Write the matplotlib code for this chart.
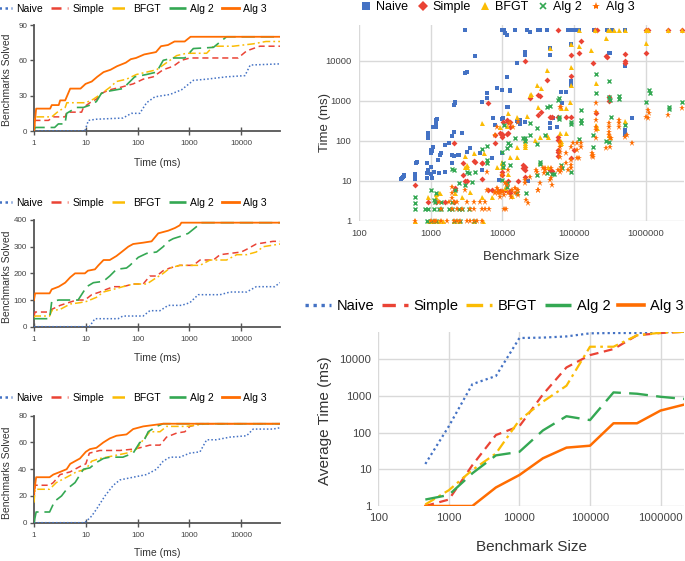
import matplotlib
matplotlib.use('Agg')
import matplotlib.pyplot as plt
from matplotlib.lines import Line2D
from matplotlib.ticker import FixedLocator, NullLocator, FixedFormatter

plt.rcParams['font.family'] = ['Liberation Sans', 'DejaVu Sans']

# ---------------- data ----------------
series_names = ['Naive', 'Simple', 'BFGT', 'Alg 2', 'Alg 3']

# Panel 1 (cactus): time (ms) vs benchmarks solved
p1_naive_t = [1, 9.6, 11.2, 16, 52, 76, 110, 149, 215, 420, 705, 1190, 2150, 5200, 11800, 14900, 56000]
p1_naive_n = [0, 0, 9, 10, 11, 15, 15, 24, 29, 31, 35, 43, 44, 46, 47, 56, 57]
p1_simple_t = [1, 1.05, 1.9, 2.4, 4, 4.3, 8.3, 9, 12, 16, 20, 29, 46, 82, 128, 200, 310, 490, 700, 1020, 8700, 12700, 22800, 56000]
p1_simple_n = [0, 9, 9, 12, 12, 16, 16, 20, 24, 27, 32, 35, 37, 40, 44, 46, 52, 55, 60, 62, 62, 68, 72, 72]
p1_bfgt_t = [1, 1.05, 2.2, 3, 4, 4.3, 10, 14, 19, 29, 39, 61, 95, 149, 232, 362, 565, 880, 2150, 2900, 7000, 17000, 30000, 56000]
p1_bfgt_n = [0, 12, 12, 17, 20, 24, 24, 27, 31, 37, 42, 44, 48, 50, 52, 58, 64, 66, 66, 72, 72, 74, 76, 76]
p1_alg2_t = [1, 1.05, 2.5, 2.95, 3.96, 4.27, 6.65, 9, 12, 16, 20, 29, 52, 88, 149, 232, 312, 485, 815, 1190, 2900, 5200, 56000]
p1_alg2_n = [0, 3, 3, 6, 6, 15, 20, 20, 22, 25, 32, 34, 36, 46, 48, 50, 60, 62, 62, 70, 71, 80, 80]
p1_alg3_t = [1, 1.1, 2.05, 2.2, 3, 3.2, 4, 5, 7.9, 9.9, 13, 16.6, 22, 30, 40, 59, 74, 93, 134, 226, 283, 385, 515, 810, 1050, 56000]
p1_alg3_n = [0, 19, 19, 22, 22, 26, 26, 36, 36, 40, 42, 46, 50, 52, 55, 58, 61, 62, 65, 67, 72, 73, 76, 76, 80, 80]

# Panel 2
p2_naive_t = [1, 11.7, 15, 42, 52, 128, 172, 270, 390, 705, 1020, 1480, 3900, 6100, 12700, 19500, 44000, 56000]
p2_naive_n = [0, 0, 30, 30, 40, 40, 60, 60, 80, 80, 90, 120, 120, 130, 130, 150, 150, 165]
p2_simple_t = [1, 1.05, 2.0, 2.2, 3.2, 4.6, 6.65, 9.6, 13, 18.7, 25, 34, 52, 82, 128, 172, 232, 312, 420, 650, 1190, 1600, 2900, 3900, 10000, 12700, 19500, 41000, 56000]
p2_simple_n = [40, 55, 55, 65, 80, 90, 100, 100, 120, 130, 140, 150, 150, 160, 160, 190, 190, 210, 220, 230, 230, 250, 250, 270, 280, 290, 310, 320, 320]
p2_bfgt_t = [1, 1.05, 2.0, 2.2, 3.2, 5, 7.7, 10.4, 16, 21.8, 34, 52, 82, 150, 215, 312, 420, 650, 1600, 2500, 5200, 8200, 12700, 19500, 26700, 56000]
p2_bfgt_n = [35, 40, 40, 60, 65, 85, 90, 95, 110, 130, 140, 150, 160, 160, 180, 200, 220, 230, 230, 250, 250, 270, 270, 280, 300, 310]
p2_alg2_t = [1, 2.0, 2.2, 3, 7.1, 10.4, 14, 21.8, 29, 39, 61, 71, 103, 150, 232, 312, 390, 485, 705, 950, 1370, 1700, 56000]
p2_alg2_n = [30, 30, 95, 100, 100, 150, 165, 170, 190, 215, 220, 230, 260, 275, 280, 300, 320, 330, 340, 350, 375, 390, 390]
p2_alg3_t = [1, 1.05, 2.0, 2.2, 3, 4, 5, 6.2, 9.6, 11, 15, 17.5, 22, 29, 39, 49, 66, 82, 128, 186, 250, 390, 525, 650, 700, 56000]
p2_alg3_n = [100, 125, 125, 140, 150, 165, 185, 200, 200, 210, 215, 230, 250, 250, 265, 280, 300, 310, 315, 320, 350, 360, 370, 380, 390, 390]

# Panel 3
p3_naive_t = [1, 9.6, 13, 16, 23.4, 34, 45.6, 82, 149, 232, 312, 420, 650, 1020, 1600, 2150, 3300, 6100, 12700, 17000, 41000, 56000]
p3_naive_n = [0, 0, 5, 10, 20, 28, 32, 34, 36, 40, 46, 49, 49, 52, 53, 62, 62, 64, 65, 70, 70, 71]
p3_simple_t = [1, 1.05, 2.0, 2.36, 3.2, 5, 7.7, 10, 11.7, 18.7, 45.6, 82, 110, 172, 270, 362, 565, 815, 1020, 1600, 56000]
p3_simple_n = [18, 28, 28, 30, 36, 38, 42, 44, 52, 54, 54, 55, 56, 58, 58, 64, 67, 68, 72, 74, 74]
p3_bfgt_t = [1, 1.05, 2.0, 2.7, 4.27, 6.6, 10, 13, 18.7, 34, 61, 95, 128, 172, 270, 362, 880, 2150, 56000]
p3_bfgt_n = [15, 25, 25, 30, 34, 38, 40, 46, 48, 50, 52, 55, 62, 68, 68, 72, 72, 74, 74]
p3_alg2_t = [1, 1.1, 2.0, 2.5, 3.4, 4.27, 6.2, 9, 12, 16, 21.8, 29, 52, 82, 110, 128, 160, 232, 312, 56000]
p3_alg2_n = [0, 8, 8, 16, 20, 25, 30, 40, 41, 45, 48, 49, 49, 52, 60, 60, 68, 72, 74, 74]
p3_alg3_t = [1, 1.1, 2.0, 2.36, 3.2, 4.27, 5, 6.2, 7.7, 10, 12, 16, 21.8, 29, 39, 61, 82, 128, 200, 312, 56000]
p3_alg3_n = [22, 34, 34, 36, 38, 40, 44, 46, 48, 53, 55, 56, 60, 63, 65, 66, 70, 72, 73, 74, 74]

p1_yticks = [0, 30, 60, 90]
p2_yticks = [0, 100, 200, 300, 400]
p3_yticks = [0, 20, 40, 60, 80]
time_ticks = [1, 10, 100, 1000, 10000]
time_labels = ['1', '10', '100', '1000', '10000']

# Scatter: benchmark size vs time (ms)
naive_x = [400, 415, 420, 380, 430, 600, 600, 600, 630, 640, 890, 890, 900, 910, 1000, 1000, 1050, 1100,
           1000, 1070, 1020, 1050, 1260, 1350, 1410, 1300, 1580, 1580, 1800, 1950, 1950, 2100, 2400, 2500,
           3160, 3550, 3550, 5130, 4800, 7080, 10000, 22400, 9000,
           910, 910, 910, 1070, 1200, 1200, 1230, 1200, 2000, 2090, 2690, 2090, 2150, 2200,
           3000, 3160, 4100, 5250, 6030, 6030, 8320, 10000, 12600, 11500, 12000, 10200, 11500, 9770, 7400, 7800,
           15800, 16200, 17800, 16600, 20900, 20900, 12600, 45700, 45700, 89100, 89100,
           302000, 316000, 513000, 89100, 89100, 77600, 67600, 64600, 51300, 45700, 45700, 57500, 17400, 20400,
           646000, 513000, 513000, 513000,
           3000, 9800, 10500, 15000, 21900, 31600, 33000, 41400, 83000, 89000, 102000, 115000, 190000, 284000,
           333000, 513000, 11000, 11500, 24300]
naive_y = [11.7, 12.6, 14.5, 11, 13, 11, 13, 15, 29, 30, 27.5, 15.5, 11.7, 19, 15, 22, 12, 17,
           59, 72, 49, 55, 34, 45, 50, 16, 17, 79, 87, 27.5, 45, 41, 45, 45,
           54, 65, 68, 19, 49, 37, 49, 10, 10.5,
           120, 141, 160, 230, 263, 330, 363, 230, 130, 170, 155, 800, 870, 955,
           5000, 5400, 13500, 960, 1550, 1170, 2150, 1870, 1780, 720, 700, 370, 4000, 350, 370, 250,
           8800, 320, 270, 300, 17000, 14000, 1900, 21000, 14000, 27000, 25000,
           15500, 15500, 7500, 3200, 2500, 1700, 910, 1700, 380, 275, 210, 230, 340, 300,
           370, 160, 140, 185,
           60000, 60000, 60000, 60000, 60000, 60000, 60000, 60000, 60000, 60000, 60000, 60000, 60000, 60000,
           60000, 60000, 50000, 45000, 54000]

simple_x = [600, 2090, 2190, 2190, 2090, 1580, 1200, 910, 3020, 3160, 3980, 4100, 5250, 5130, 6310, 7080,
            8710, 9120, 10000, 10000, 11000, 12600, 12600, 12000, 16600, 19500, 19500, 10000, 10000, 7940,
            2820, 2820, 60300, 60300, 60300, 100000, 89100, 60300, 60300, 6310, 9330, 9770, 11500, 12000,
            12000, 11500, 5130, 123000, 115000, 89100, 20900, 41700, 31600, 33100, 24500, 89100, 182000,
            282000, 290000, 513000, 513000, 513000, 1020000, 204000, 309000, 302000, 34700, 45700, 49000,
            60300, 77600, 89100, 31600, 20900, 20900, 20900, 45700, 49000, 12600, 10200, 12600, 9770, 7940,
            60300, 195000, 205000, 1000000, 1070000, 2040000, 3160000]
simple_y = [8, 91, 6.6, 6, 3, 3, 3, 3, 10, 10, 32, 30, 28, 11, 6, 6,
            5.5, 5.5, 17, 14, 6, 5.5, 5, 10, 10, 25, 21, 141, 151, 89,
            28, 14, 52, 61, 43, 59, 37, 129, 107, 870, 155, 126, 150, 155,
            300, 330, 29, 32400, 16200, 14100, 10000, 3300, 1410, 1320, 1175, 4170, 8710,
            13200, 12600, 14800, 10000, 8710, 15500, 490, 1260, 1000, 540, 398, 398,
            398, 398, 398, 447, 23, 19, 12.6, 19, 18, 300, 300, 229, 141, 141,
            60000, 60000, 60000, 60000, 60000, 60000, 60000]

bfgt_x = [5130, 9330, 11500, 12000, 16200, 5500, 3020, 1200, 1200, 2690, 3550, 1290, 1350, 2190, 3160, 3160,
          3020, 3980, 5130, 7080, 8320, 10000, 10000, 12000, 11000, 20900, 20900, 28200, 33100, 43700,
          63100, 66000, 13500, 910, 600, 950, 1000, 1100, 1300, 3980, 5300, 1500, 2100, 2500,
          115000, 195000, 300000, 320000, 355000, 417000, 513000, 1020000, 1070000, 2040000, 3160000,
          45700, 89100, 115000, 174000, 282000, 1020000, 41700, 89100, 204000, 30200, 34700, 24500, 89100,
          87000, 64600, 77600, 31600, 21900, 15800, 20900, 20400, 33100, 41700, 43700, 63100, 64600, 77600,
          63100, 204000, 209000, 302000, 316000, 513000, 15800, 12600, 10000, 25000]
bfgt_y = [275, 219, 234, 490, 72, 51, 23, 4.8, 4, 4, 5.4, 5, 5, 5, 25, 22,
          41, 51, 4, 4, 23, 27.5, 23, 15, 6.6, 107, 79, 107, 28, 23,
          100, 91, 4.1, 4, 1, 1, 1, 1, 1, 1, 1, 1, 1, 1,
          60000, 60000, 60000, 60000, 60000, 60000, 60000, 60000, 60000, 60000, 60000,
          20900, 26300, 23400, 18600, 37200, 27500, 5890, 6920, 2750, 2510, 2090, 1410, 2510,
          955, 661, 661, 692, 427, 398, 87, 72, 129, 141, 126, 155, 100, 158,
          85, 251, 209, 141, 126, 316, 40, 40, 30, 1500]

alg2_x = [5130, 6030, 9770, 11500, 12000, 12600, 15100, 10200, 10200, 9770, 11500, 11500, 6030, 6030, 4170,
          2000, 2090, 3160, 3390, 3720, 2450, 1020, 1200, 1100, 1150, 600, 600, 600, 830, 930, 1100, 1290,
          1410, 1780, 2000, 2450, 2690, 3390, 1410, 2000, 2190, 3020, 900, 1000, 1200, 2100, 2600, 4000,
          204000, 204000, 309000, 309000, 316000, 417000, 417000, 1120000, 1150000, 1020000, 2090000,
          2090000, 3160000, 60300, 61700, 123000, 89100, 89100, 123000, 123000, 61700, 61700, 45700,
          20900, 20900, 24500, 30200, 30200, 39800, 115000, 182000, 182000, 282000, 302000, 331000, 513000,
          33100, 33100, 49000, 41700, 52000, 64600, 67600, 89100, 30200, 15800, 21400, 12600, 24500, 41700,
          10500, 19500]
alg2_y = [62, 74, 52, 66, 87, 79, 117, 27.5, 23, 10.7, 9.1, 7.2, 33, 28, 17,
          19.5, 19, 17, 15.5, 9.5, 8.7, 6, 5.1, 3.3, 3, 4, 2.9, 2, 2, 2, 2, 2,
          2, 2, 2, 2, 2, 2, 3, 3, 6, 8, 1, 1, 1, 1, 1, 1,
          4680, 1550, 3240, 1290, 1050, 1320, 1150, 1860, 1620, 955, 692,
          617, 955, 1050, 1175, 603, 302, 263, 331, 275, 398, 355, 759,
          117, 100, 141, 209, 85, 141, 112, 141, 69, 100, 95, 398, 251,
          30, 26, 14.8, 15.5, 14.8, 25, 21, 17, 14, 4.9, 4.9, 25, 275, 720,
          251, 117]

alg3_x = [600, 1020, 1100, 1200, 1410, 1660, 2090, 2290, 2570, 3160, 3550, 3980, 4370, 5130,
          1410, 1950, 2290, 2690, 3550, 3980, 5130, 5800, 6500, 10500, 11200,
          1290, 1780, 2090, 2290, 3160, 3980, 4900, 5800,
          7940, 8700, 8300, 9770, 10500, 10900, 11500, 13500, 15100, 16600, 16600, 21400, 22400, 30900,
          29500, 30500, 36300, 38000, 46800, 47500, 60300, 63000, 83200, 89100, 110000, 110000, 178000,
          178000, 110000, 95000, 15800, 20900, 20900, 24500, 31600, 33100, 45700, 49000, 39800, 39800,
          64600, 64600, 77600, 89100, 89100, 63100, 63100, 63100, 63100, 77600, 89100, 115000, 123000,
          123000, 182000, 182000, 204000, 204000, 204000, 204000, 204000, 204000, 302000, 302000, 302000,
          302000, 316000, 331000, 282000, 316000, 417000, 417000, 417000, 513000, 550000, 646000, 1070000,
          1120000, 1020000, 1070000, 2040000, 3160000, 6030, 7940, 8700, 9330, 10200, 12000, 9330, 13000,
          6030, 15100, 12000, 9770, 16600, 1950, 1950, 2000, 3020, 63100, 66000, 7900, 8300, 12600, 14000]
alg3_y = [1, 1, 1, 1, 1, 1, 1, 1, 1, 1, 1, 1, 1, 1,
          2, 2, 2, 2, 2, 2, 2, 2, 2, 2, 2,
          3, 3, 3, 3, 3, 3, 3, 3,
          5, 6, 6.6, 5.5, 4.5, 8.7, 7.9, 6, 5, 6, 4.5, 3.3, 2.8, 6,
          19, 17, 21, 16, 21, 12, 19, 17, 19, 25, 37, 60, 41,
          50, 89, 89, 6, 10.5, 8.7, 12.6, 6, 8.7, 10.5, 7.9, 18.6, 21,
          18.6, 23, 27.5, 21, 33, 54, 40, 72, 95, 49, 72, 37, 72,
          87, 45, 40, 871, 537, 339, 229, 191, 117, 275, 229, 170,
          141, 117, 117, 66, 72, 331, 275, 229, 123, 141, 91, 603,
          490, 398, 372, 447, 661, 17, 5.4, 4.9, 4.9, 5.4, 4.9, 4, 4,
          6, 6.6, 18.6, 14, 302, 7.2, 4.9, 3.7, 6, 690, 700, 140, 230, 290, 220]

# Average time by benchmark size
avg_sizes = [464, 1000, 2154, 4642, 10000, 21544, 46416, 100000, 215443, 464159, 1000000, 2150000]
naive_avg = [14, 150, 2100, 3500, 38000, 39000, 42000, 51000, 52000, 52000, 55000, 56000]
simple_avg = [1, 1.5, 13, 86, 150, 1100, 6000, 13000, 19000, 45000, 52000, 56000]
bfgt_avg = [1.1, 2.7, 9.6, 27, 220, 700, 1900, 22000, 22000, 45000, 53000, 56000]
alg2_avg = [1.5, 2.0, 7.8, 24, 30, 115, 280, 220, 1250, 1150, 950, 830]
alg3_avg = [1, 1, 1, 3.2, 7, 20, 39, 44, 180, 180, 400, 580]

size_ticks = [100, 1000, 10000, 100000, 1000000]
size_labels = ['100', '1000', '10000', '100000', '1000000']
sc_yticks = [1, 10, 100, 1000, 10000]
sc_ylabels = ['1', '10', '100', '1000', '10000']

# ---------------- styles ----------------
colors = ['#4472C4', '#EA4335', '#FBBC04', '#34A853', '#FF6D01']
lstyles = [(0, (1, 1.4)), (0, (4, 2.5)), (0, (5, 2, 1.2, 2)), (0, (8, 3.5)), '-']
lwidths = [1.1, 1.1, 1.1, 1.2, 1.3]
markers = ['s', 'D', '^', 'x', '*']
msizes = [3.0, 3.0, 3.6, 3.2, 4.8]
AXC = '#555555'
TXT = '#333333'
GRID = '#d9d9d9'

W, H = 685, 561
fig = plt.figure(figsize=(W / 100, H / 100), dpi=100)


def rect(l, t, r, b):
    return [l / W, 1 - b / H, (r - l) / W, (b - t) / H]


def cactus(box, data, yticks, legend_y, ylab_y, xlab_y):
    ax = fig.add_axes(rect(*box))
    for i, (t, n) in enumerate(data):
        ax.plot(t, n, color=colors[i], ls=lstyles[i], lw=lwidths[i], zorder=2 + (i == 4))
    ax.set_xscale('log')
    ax.set_xlim(1, 56000)
    ax.set_ylim(0, yticks[-1])
    ax.xaxis.set_major_locator(FixedLocator(time_ticks))
    ax.xaxis.set_major_formatter(FixedFormatter(time_labels))
    ax.xaxis.set_minor_locator(NullLocator())
    ax.set_yticks(yticks)
    ax.set_yticklabels([str(v) for v in yticks])
    for s in ['top', 'right']:
        ax.spines[s].set_visible(False)
    for s in ['left', 'bottom']:
        ax.spines[s].set_color(AXC)
        ax.spines[s].set_linewidth(1.3)
        ax.spines[s].set_zorder(1)
    ax.tick_params(axis='x', direction='inout', length=6, width=1, color=AXC,
                   labelsize=5.8, labelcolor='#444444', pad=3.5)
    ax.tick_params(axis='y', direction='out', length=3, width=1, color=AXC,
                   labelsize=5.8, labelcolor='#444444', pad=2)
    ax.set_facecolor('none')
    handles = [Line2D([], [], color=colors[i], ls=lstyles[i], lw=lwidths[i] + 0.7) for i in range(5)]
    fig.legend(handles, series_names, loc='center', bbox_to_anchor=(131 / W, 1 - legend_y / H),
               ncol=5, frameon=False, fontsize=7.5, handlelength=1.6, handletextpad=0.4,
               columnspacing=0.8, borderaxespad=0, borderpad=0)
    fig.text(7 / W, 1 - ylab_y / H, 'Benchmarks Solved', rotation=90, ha='center', va='center',
             fontsize=7.5, color=TXT)
    fig.text(157 / W, 1 - xlab_y / H, 'Time (ms)', ha='center', va='center', fontsize=7.5, color=TXT)
    return ax


cactus((34, 25, 280, 131),
       [(p1_naive_t, p1_naive_n), (p1_simple_t, p1_simple_n), (p1_bfgt_t, p1_bfgt_n),
        (p1_alg2_t, p1_alg2_n), (p1_alg3_t, p1_alg3_n)],
       p1_yticks, 9, 80, 163)
cactus((34, 220, 280, 326.7),
       [(p2_naive_t, p2_naive_n), (p2_simple_t, p2_simple_n), (p2_bfgt_t, p2_bfgt_n),
        (p2_alg2_t, p2_alg2_n), (p2_alg3_t, p2_alg3_n)],
       p2_yticks, 203, 277, 358)
cactus((34, 415.7, 280, 522.7),
       [(p3_naive_t, p3_naive_n), (p3_simple_t, p3_simple_n), (p3_bfgt_t, p3_bfgt_n),
        (p3_alg2_t, p3_alg2_n), (p3_alg3_t, p3_alg3_n)],
       p3_yticks, 398, 473, 553)


def style_log_axes(ax, xlim, ylim, yt, ylabels, lsize, pad):
    ax.set_xscale('log')
    ax.set_yscale('log')
    ax.set_xlim(*xlim)
    ax.set_ylim(*ylim)
    ax.xaxis.set_major_locator(FixedLocator(size_ticks))
    ax.xaxis.set_major_formatter(FixedFormatter(size_labels))
    ax.yaxis.set_major_locator(FixedLocator(yt))
    ax.yaxis.set_major_formatter(FixedFormatter(ylabels))
    ax.xaxis.set_minor_locator(NullLocator())
    ax.yaxis.set_minor_locator(NullLocator())
    for s in ax.spines.values():
        s.set_visible(False)
    ax.grid(True, color=GRID, lw=1.0, zorder=0)
    ax.set_axisbelow(True)
    ax.tick_params(length=0, labelsize=lsize, labelcolor='#444444', pad=pad)


# ---------------- scatter ----------------
ax4 = fig.add_axes(rect(359, 25, 684, 221))
style_log_axes(ax4, (100, 3.4e6), (1, 79400), sc_yticks, sc_ylabels, 6.8, 5.5)
sc_data = [(naive_x, naive_y), (simple_x, simple_y), (bfgt_x, bfgt_y), (alg2_x, alg2_y), (alg3_x, alg3_y)]
for i, (xs, ys) in enumerate(sc_data):
    if markers[i] == 'x':
        ax4.plot(xs, ys, ls='none', marker='x', ms=msizes[i], mew=1.0, color=colors[i], clip_on=False, zorder=3)
    else:
        ax4.plot(xs, ys, ls='none', marker=markers[i], ms=msizes[i], mew=0, color=colors[i], clip_on=False, zorder=3)
sc_handles = []
for i in range(5):
    if markers[i] == 'x':
        sc_handles.append(Line2D([], [], ls='none', marker='x', ms=5, mew=1.2, color=colors[i]))
    else:
        sc_handles.append(Line2D([], [], ls='none', marker=markers[i], ms=6 if markers[i] != 'D' else 5, mew=0, color=colors[i]))
fig.legend(sc_handles, series_names, loc='center', bbox_to_anchor=(498 / W, 1 - 7 / H), ncol=5,
           frameon=False, fontsize=9, handlelength=0.8, handletextpad=0.4, columnspacing=0.75,
           borderaxespad=0, borderpad=0)
fig.text(325 / W, 1 - 123 / H, 'Time (ms)', rotation=90, ha='center', va='center', fontsize=9.5, color=TXT)
fig.text(531 / W, 1 - 257 / H, 'Benchmark Size', ha='center', va='center', fontsize=9.5, color=TXT)

# ---------------- average time ----------------
ax5 = fig.add_axes(rect(378.3, 331.7, 684, 506))
style_log_axes(ax5, (100, 2.15e6), (1, 56500), sc_yticks, sc_ylabels, 8.2, 5)
avg_data = [naive_avg, simple_avg, bfgt_avg, alg2_avg, alg3_avg]
for i, ys in enumerate(avg_data):
    ax5.plot(avg_sizes, ys, color=colors[i], ls=lstyles[i], lw=lwidths[i] + 0.5, zorder=3, clip_on=True)
av_handles = [Line2D([], [], color=colors[i], ls=lstyles[i], lw=lwidths[i] + 1.3) for i in range(5)]
fig.legend(av_handles, series_names, loc='center', bbox_to_anchor=(494 / W, 1 - 306 / H), ncol=5,
           frameon=False, fontsize=10.5, handlelength=1.8, handletextpad=0.4, columnspacing=0.5,
           borderaxespad=0, borderpad=0)
fig.text(325 / W, 1 - 421 / H, 'Average Time (ms)', rotation=90, ha='center', va='center', fontsize=11, color=TXT)
fig.text(531 / W, 1 - 547 / H, 'Benchmark Size', ha='center', va='center', fontsize=11, color=TXT)

fig.savefig('out.png', dpi=100)
